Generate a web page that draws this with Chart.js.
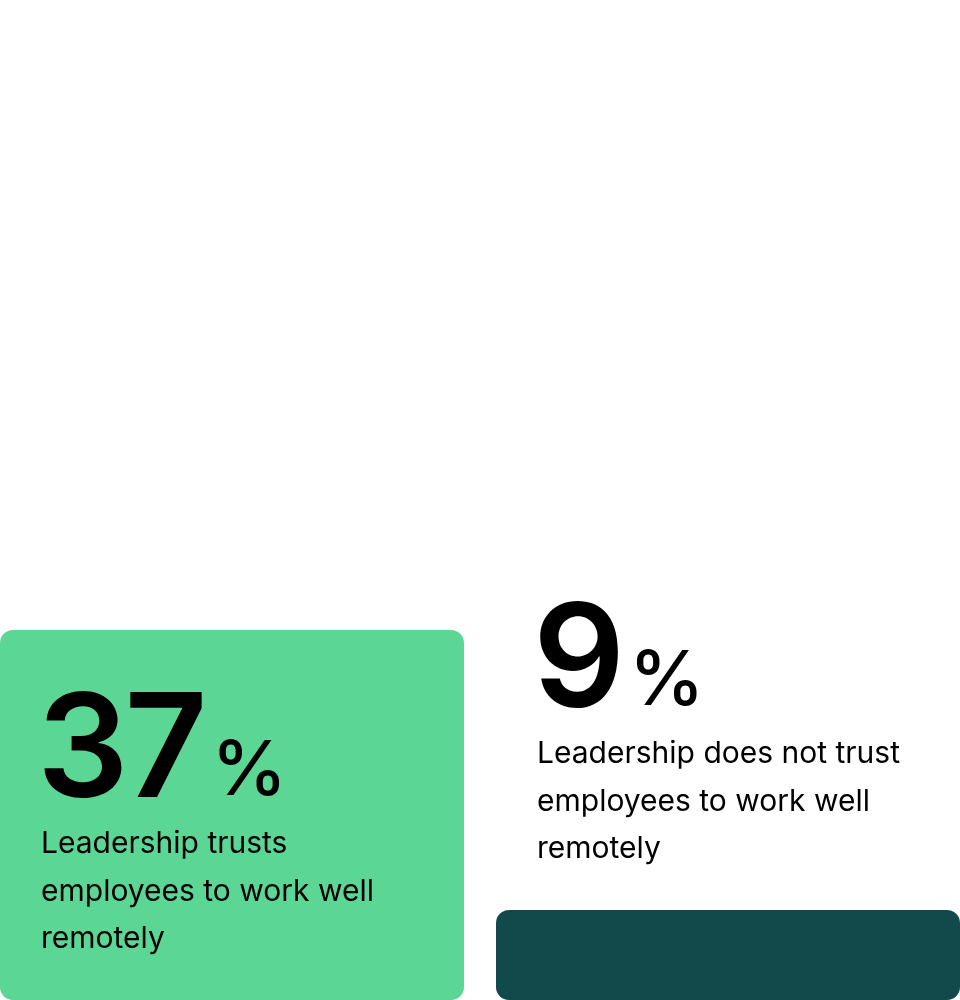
<!DOCTYPE html>
<html>
<head>
<meta charset="utf-8">
<script src="https://cdn.jsdelivr.net/npm/chart.js@4/dist/chart.umd.min.js"></script>
<style>
  html, body { margin: 0; padding: 0; background: #fff; overflow: hidden; }
  /* category width 496 -> the outer bar edges land on the window edges */
  #wrap { width: 992px; height: 1000px; position: relative; margin-left: -16px; }
</style>
</head>
<body>
<div id="wrap"><canvas id="trustChart"></canvas></div>
<script>
// values
const categories = ['Trusts', 'Does not trust'];
const shares = [37, 9];
const descriptions = [
    ['Leadership trusts', 'employees to work well', 'remotely'],
    ['Leadership does not trust', 'employees to work well', 'remotely']
];
const barColors = ['#5CD695', '#12494B'];

const FONT = 'Inter, "Noto Sans", sans-serif';

// draws the big percentage and the caption, inside the bar when it fits, above it otherwise
const statLabels = {
    id: 'statLabels',
    afterDatasetsDraw(chart) {
        const ctx = chart.ctx;
        const meta = chart.getDatasetMeta(0);
        meta.data.forEach((bar, i) => {
            const props = bar.getProps(['x', 'y', 'base', 'width'], true);
            const left = props.x - props.width / 2 + 41;
            const height = props.base - props.y;
            let numBase;
            if (height > 300) {
                numBase = props.y + 167;
            } else {
                numBase = props.y - 203;
            }

            ctx.save();
            ctx.fillStyle = '#000';
            ctx.textBaseline = 'alphabetic';
            ctx.textAlign = 'left';

            ctx.font = '600 144px ' + FONT;
            ctx.letterSpacing = '-4px';
            const num = String(shares[i]);
            ctx.fillText(num, left - 4, numBase);
            const numWidth = ctx.measureText(num).width;

            ctx.font = '500 76px ' + FONT;
            ctx.letterSpacing = '0px';
            ctx.fillText('%', left - 4 + numWidth + 8, numBase - 2);

            ctx.font = '400 30px ' + FONT;
            descriptions[i].forEach((line, j) => {
                ctx.fillText(line, left, numBase + 56 + j * 47.5);
            });
            ctx.restore();
        });
    }
};

new Chart(document.getElementById('trustChart'), {
    type: 'bar',
    data: {
        labels: categories,
        datasets: [{
            data: shares,
            backgroundColor: barColors,
            borderRadius: 13,
            borderSkipped: false,
            categoryPercentage: 1,
            barPercentage: 464 / 496
        }]
    },
    options: {
        responsive: true,
        maintainAspectRatio: false,
        animation: false,
        layout: { padding: 0 },
        scales: {
            x: { display: false },
            y: { display: false, min: 0, max: 100 }
        },
        plugins: {
            legend: { display: false },
            tooltip: { enabled: false }
        }
    },
    plugins: [statLabels]
});
</script>
</body>
</html>
